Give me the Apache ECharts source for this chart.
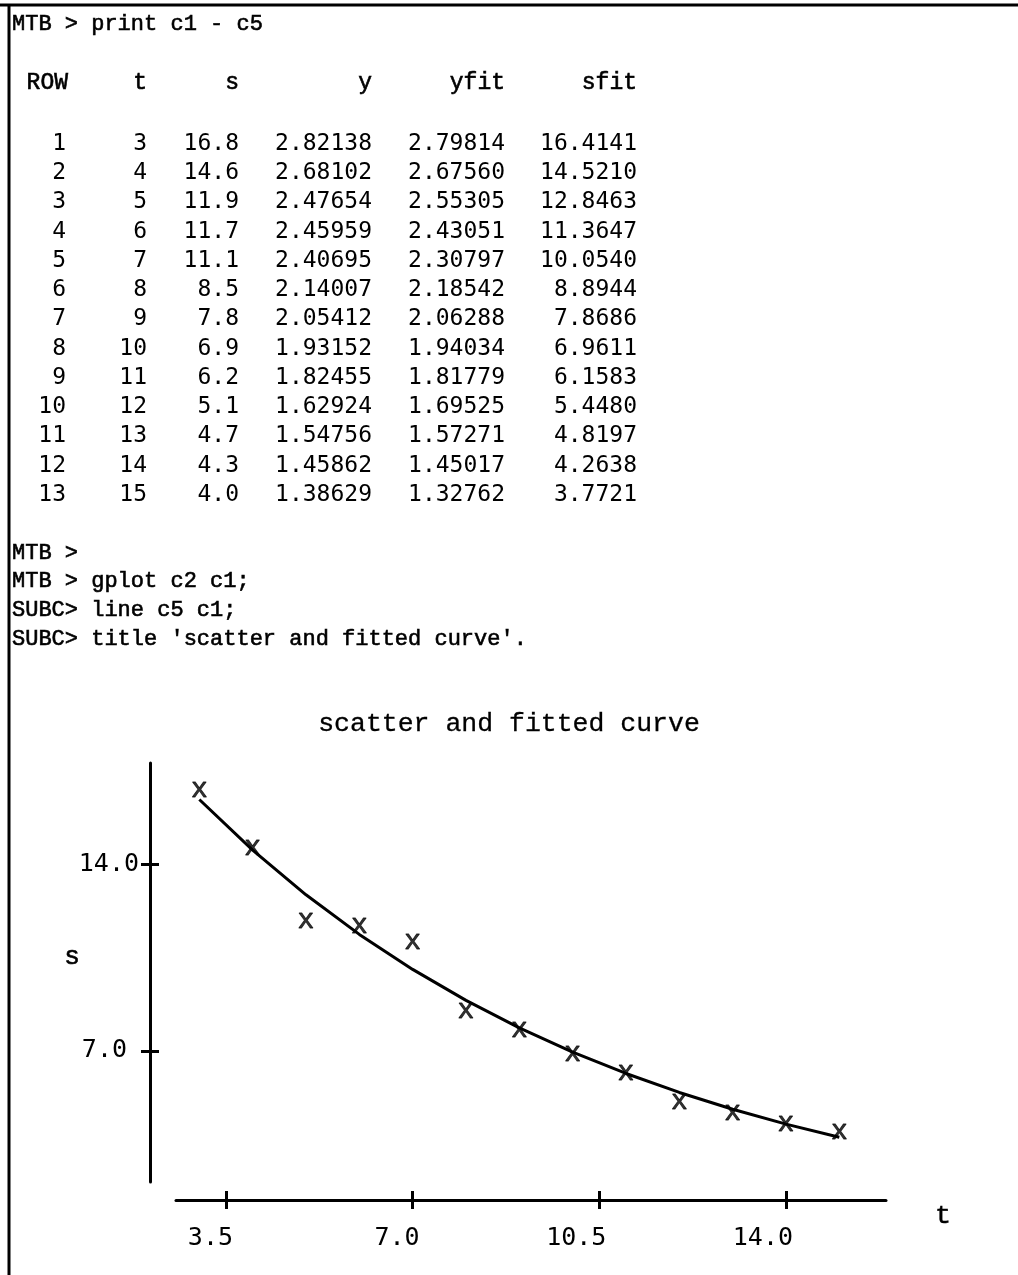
<!DOCTYPE html>
<html>
<head>
<meta charset="utf-8">
<script src="https://cdn.jsdelivr.net/npm/echarts@6/dist/echarts.min.js"></script>
<style>
html,body{margin:0;padding:0;background:#fff;}
#chart{width:1018px;height:1275px;}
</style>
</head>
<body>
<div id="chart"></div>
<script>
// ---- data ----
const rowNo = [1,2,3,4,5,6,7,8,9,10,11,12,13];
const t = [3,4,5,6,7,8,9,10,11,12,13,14,15];
const s = [16.8,14.6,11.9,11.7,11.1,8.5,7.8,6.9,6.2,5.1,4.7,4.3,4.0];
const y = [2.82138,2.68102,2.47654,2.45959,2.40695,2.14007,2.05412,1.93152,1.82455,1.62924,1.54756,1.45862,1.38629];
const yfit = [2.79814,2.67560,2.55305,2.43051,2.30797,2.18542,2.06288,1.94034,1.81779,1.69525,1.57271,1.45017,1.32762];
const sfit = [16.4141,14.5210,12.8463,11.3647,10.0540,8.8944,7.8686,6.9611,6.1583,5.4480,4.8197,4.2638,3.7721];
const xTicks = [3.5,7.0,10.5,14.0];
const yTicks = [7.0,14.0];
const headers = ['ROW','t','s','y','yfit','sfit'];
const sessionTop = ['MTB > print c1 - c5'];
const sessionBottom = ['MTB >','MTB > gplot c2 c1;','SUBC> line c5 c1;',"SUBC> title 'scatter and fitted curve'."];
const chartTitle = 'scatter and fitted curve';

// ---- layout/style ----
const MONO_SERIF = '"Liberation Mono", "Courier New", monospace';
const MONO_SANS = '"DejaVu Sans Mono", monospace';
const colRight = [66, 147, 239, 372, 505, 637];
const rowY0 = 142, rowStep = 29.25;

const graphics = [];
function txt(str, x, yy, font, align, heavy) {
  const st = { text: str, font: font, fill: '#000', textAlign: align || 'left', textVerticalAlign: 'middle', align: align || 'left', verticalAlign: 'middle' };
  if (heavy) { st.stroke = '#000'; st.lineWidth = 0.6; }
  graphics.push({ type: 'text', x: x, y: yy, silent: true, style: st });
}
// border
graphics.push({type:'line', shape:{x1:0,y1:5,x2:1018,y2:5}, style:{stroke:'#000', lineWidth:3}, silent:true});
graphics.push({type:'line', shape:{x1:9,y1:4,x2:9,y2:1275}, style:{stroke:'#000', lineWidth:3}, silent:true});

txt(sessionTop[0], 12, 24, '22px ' + MONO_SERIF, 'left', true);
headers.forEach((h, i) => txt(h, colRight[i] + (i === 0 ? 2 : 0), 83, '23px ' + MONO_SERIF, 'right', true));
const cols = [
  rowNo.map(v => String(v)),
  t.map(v => String(v)),
  s.map(v => v.toFixed(1)),
  y.map(v => v.toFixed(5)),
  yfit.map(v => v.toFixed(5)),
  sfit.map(v => v.toFixed(4))
];
cols.forEach((c, ci) => c.forEach((str, ri) => txt(str, colRight[ci], rowY0 + 2 + ri * rowStep, '23px ' + MONO_SANS, 'right')));
const cmdY = [553, 581, 610, 639];
sessionBottom.forEach((l, i) => txt(l, 12, cmdY[i], '22px ' + MONO_SERIF, 'left', true));
txt('s', 72, 957, '26px ' + MONO_SERIF, 'center', true);
txt('t', 943, 1216, '26px ' + MONO_SERIF, 'center', true);

const axisCommon = {
  type: 'value',
  splitLine: { show: false },
  axisPointer: { show: false }
};

const chart = echarts.init(document.getElementById('chart'), null, { renderer: 'canvas' });
chart.setOption({
  animation: false,
  backgroundColor: '#fff',
  title: {
    text: chartTitle, left: 'center', top: 710, padding: 0,
    textStyle: { fontFamily: MONO_SERIF, fontSize: 26.5, fontWeight: 'normal', color: '#000', textBorderColor: '#000', textBorderWidth: 0.3 }
  },
  grid: { left: 176, right: 132, top: 763, bottom: 93, containLabel: false },
  xAxis: [
    Object.assign({}, axisCommon, {
      min: 2.5625, max: 15.875, position: 'bottom', offset: 18,
      axisLine: { show: true, lineStyle: { color: '#000', width: 3 } },
      axisTick: { show: true, customValues: xTicks, length: 9, inside: false, lineStyle: { color: '#000', width: 3 } },
      axisLabel: { show: true, customValues: xTicks, formatter: v => v.toFixed(1), margin: 26, align: 'right', padding: [0, -7, 0, 0],
        fontFamily: MONO_SANS, fontSize: 25, color: '#000' }
    }),
    Object.assign({}, axisCommon, {
      min: 2.5625, max: 15.875, position: 'bottom', offset: 18,
      axisLine: { show: false },
      axisTick: { show: true, customValues: xTicks, length: 9, inside: true, lineStyle: { color: '#000', width: 3 } },
      axisLabel: { show: false }
    })
  ],
  yAxis: [
    Object.assign({}, axisCommon, {
      min: 2.096, max: 17.781, position: 'left', offset: 26,
      axisLine: { show: true, lineStyle: { color: '#000', width: 3 } },
      axisTick: { show: true, customValues: yTicks, length: 9, inside: false, lineStyle: { color: '#000', width: 3 } },
      axisLabel: { show: true, customValues: yTicks, margin: 11,
        formatter: v => { const l = v.toFixed(1); return l.length < 4 ? '{n|' + l + '}' : l; },
        rich: { n: { fontFamily: MONO_SANS, fontSize: 25, color: '#000', padding: [0, 12, 0, 0] } },
        fontFamily: MONO_SANS, fontSize: 25, color: '#000' }
    }),
    Object.assign({}, axisCommon, {
      min: 2.096, max: 17.781, position: 'left', offset: 26,
      axisLine: { show: false },
      axisTick: { show: true, customValues: yTicks, length: 9, inside: true, lineStyle: { color: '#000', width: 3 } },
      axisLabel: { show: false }
    })
  ],
  series: [
    {
      type: 'line', xAxisIndex: 0, yAxisIndex: 0,
      data: t.map((v, i) => [v, sfit[i]]),
      symbol: 'none', lineStyle: { color: '#000', width: 3 }, silent: true, z: 2
    },
    {
      type: 'scatter', xAxisIndex: 0, yAxisIndex: 0,
      data: t.map((v, i) => [v, s[i]]),
      symbol: 'circle', symbolSize: 2, itemStyle: { color: 'rgba(0,0,0,0)' }, silent: true, z: 3,
      label: { show: true, position: 'inside', formatter: 'x', fontFamily: MONO_SERIF, fontSize: 28, fontWeight: 'normal',
        color: '#000', textBorderColor: '#000', textBorderWidth: 0.8 },
      labelLayout: { hideOverlap: false }
    }
  ],
  graphic: graphics
});
</script>
</body>
</html>
